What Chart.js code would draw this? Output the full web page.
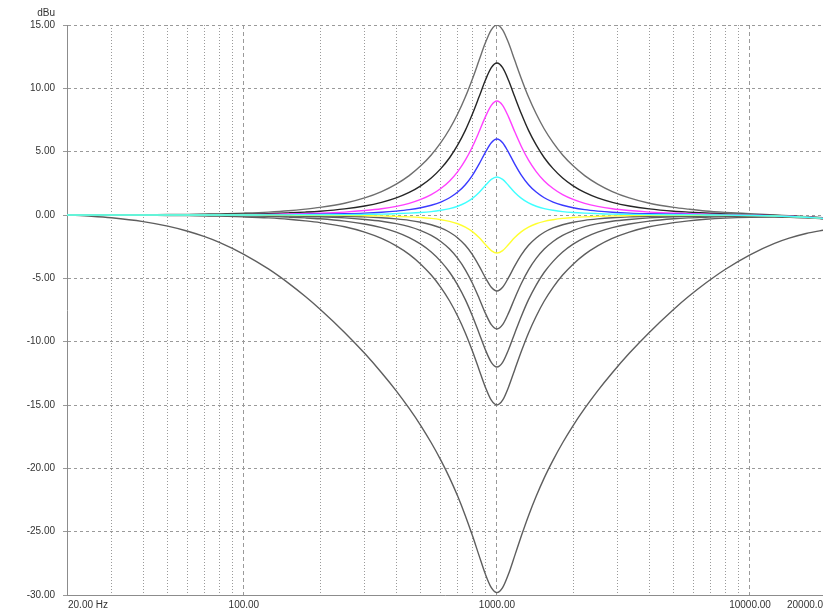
<!DOCTYPE html>
<html>
<head>
<meta charset="utf-8">
<script src="https://cdn.jsdelivr.net/npm/chart.js@4/dist/chart.umd.min.js"></script>
<style>
  html, body { margin: 0; padding: 0; background: #ffffff; overflow: hidden; }
  #wrap { width: 823px; height: 611px; }
</style>
</head>
<body>
<div id="wrap"><canvas id="c" width="823" height="611"></canvas></div>
<script>
// Frequencies (Hz)
const freqs = [20,25,30,40,50,60,70,80,100,125,150,175,200,250,300,350,400,450,500,550,600,650,700,750,800,850,900,950,1000,
               1053,1111,1176,1250,1333,1429,1538,1667,1818,2000,2222,2500,2857,3333,4000,5000,5714,6667,8000,10000,12500,14286,16667,20000];

// Level (dBu) per curve
const boost15 = [0,0.01,0.01,0.02,0.04,0.05,0.07,0.09,0.15,0.23,0.33,0.46,0.60,0.93,1.35,1.85,2.44,3.11,3.88,4.74,5.71,6.79,7.99,9.31,10.74,12.21,13.59,14.62,15.00,
                 14.62,13.59,12.21,10.74,9.31,7.99,6.79,5.71,4.74,3.88,3.11,2.44,1.85,1.35,0.93,0.60,0.46,0.32,0.21,0.11,0.01,-0.05,-0.13,-0.24];
const boost12 = [0,0,0.01,0.01,0.02,0.03,0.04,0.05,0.07,0.11,0.17,0.23,0.30,0.48,0.71,1.00,1.35,1.78,2.30,2.92,3.66,4.52,5.53,6.68,7.97,9.33,10.64,11.63,12.00,
                 11.63,10.64,9.33,7.97,6.68,5.53,4.52,3.66,2.92,2.30,1.78,1.35,1.00,0.71,0.48,0.30,0.23,0.16,0.09,0.03,-0.03,-0.08,-0.15,-0.26];
const boost9  = [0,0,0,0.01,0.01,0.01,0.02,0.02,0.03,0.05,0.08,0.11,0.14,0.23,0.35,0.49,0.68,0.92,1.23,1.61,2.09,2.69,3.43,4.33,5.39,6.57,7.75,8.66,9.00,
                 8.66,7.75,6.57,5.39,4.33,3.43,2.69,2.09,1.61,1.23,0.92,0.68,0.49,0.35,0.23,0.14,0.11,0.07,0.03,-0.01,-0.06,-0.10,-0.17,-0.27];
const boost6  = [0,0,0,0,0,0.01,0.01,0.01,0.01,0.02,0.03,0.05,0.06,0.10,0.15,0.22,0.31,0.42,0.57,0.77,1.02,1.36,1.81,2.39,3.13,4.02,4.95,5.71,6.00,
                 5.71,4.95,4.02,3.13,2.39,1.81,1.36,1.02,0.77,0.57,0.42,0.31,0.22,0.15,0.10,0.06,0.05,0.02,0.00,-0.03,-0.07,-0.11,-0.17,-0.28];
const boost3  = [0,0,0,0,0,0,0,0,0,0.01,0.01,0.02,0.02,0.03,0.05,0.07,0.11,0.15,0.20,0.27,0.37,0.50,0.69,0.95,1.31,1.78,2.33,2.81,3.00,
                 2.81,2.33,1.78,1.31,0.95,0.69,0.50,0.37,0.27,0.20,0.15,0.11,0.07,0.05,0.03,0.02,0.02,0.00,-0.01,-0.04,-0.08,-0.12,-0.18,-0.28];
const cut3    = [0,0,0,0,0,0,0,0,0,-0.01,-0.01,-0.02,-0.02,-0.03,-0.05,-0.07,-0.11,-0.15,-0.20,-0.27,-0.37,-0.50,-0.69,-0.95,-1.31,-1.78,-2.33,-2.81,-3.00,
                 -2.81,-2.33,-1.78,-1.31,-0.95,-0.69,-0.50,-0.37,-0.27,-0.20,-0.15,-0.11,-0.07,-0.05,-0.03,-0.02,-0.02,-0.02,-0.03,-0.04,-0.08,-0.12,-0.18,-0.28];
const cut6    = [0,0,0,0,0,-0.01,-0.01,-0.01,-0.01,-0.02,-0.03,-0.05,-0.06,-0.10,-0.15,-0.22,-0.31,-0.42,-0.57,-0.77,-1.02,-1.36,-1.81,-2.39,-3.13,-4.02,-4.95,-5.71,-6.00,
                 -5.71,-4.95,-4.02,-3.13,-2.39,-1.81,-1.36,-1.02,-0.77,-0.57,-0.42,-0.31,-0.22,-0.15,-0.10,-0.06,-0.05,-0.04,-0.04,-0.05,-0.09,-0.13,-0.19,-0.28];
const cut9    = [0,0,0,-0.01,-0.01,-0.01,-0.02,-0.02,-0.03,-0.05,-0.08,-0.11,-0.14,-0.23,-0.35,-0.49,-0.68,-0.92,-1.23,-1.61,-2.09,-2.69,-3.43,-4.33,-5.39,-6.57,-7.75,-8.66,-9.00,
                 -8.66,-7.75,-6.57,-5.39,-4.33,-3.43,-2.69,-2.09,-1.61,-1.23,-0.92,-0.68,-0.49,-0.35,-0.23,-0.14,-0.11,-0.09,-0.07,-0.07,-0.10,-0.14,-0.19,-0.29];
const cut12   = [0,0,-0.01,-0.01,-0.02,-0.03,-0.04,-0.05,-0.07,-0.11,-0.17,-0.23,-0.30,-0.48,-0.71,-1.00,-1.35,-1.78,-2.30,-2.92,-3.66,-4.52,-5.53,-6.68,-7.97,-9.33,-10.64,-11.63,-12.00,
                 -11.63,-10.64,-9.33,-7.97,-6.68,-5.53,-4.52,-3.66,-2.92,-2.30,-1.78,-1.35,-1.00,-0.71,-0.48,-0.30,-0.23,-0.18,-0.13,-0.11,-0.13,-0.16,-0.21,-0.30];
const cut15   = [0,-0.01,-0.01,-0.02,-0.04,-0.05,-0.07,-0.09,-0.15,-0.23,-0.33,-0.46,-0.60,-0.93,-1.35,-1.85,-2.44,-3.11,-3.88,-4.74,-5.71,-6.79,-7.99,-9.31,-10.74,-12.21,-13.59,-14.62,-15.00,
                 -14.62,-13.59,-12.21,-10.74,-9.31,-7.99,-6.79,-5.71,-4.74,-3.88,-3.11,-2.44,-1.85,-1.35,-0.93,-0.60,-0.46,-0.34,-0.25,-0.19,-0.17,-0.19,-0.23,-0.32];
const cut30   = [0,-0.10,-0.22,-0.52,-0.88,-1.28,-1.71,-2.16,-3.10,-4.26,-5.38,-6.44,-7.44,-9.27,-10.92,-12.45,-13.88,-15.27,-16.62,-17.98,-19.35,-20.75,-22.21,-23.74,-25.31,-26.89,-28.35,-29.42,-29.81,
                 -29.42,-28.35,-26.89,-25.31,-23.74,-22.21,-20.75,-19.35,-17.98,-16.62,-15.27,-13.88,-12.45,-10.92,-9.27,-7.44,-6.44,-5.39,-4.28,-3.14,-2.24,-1.83,-1.46,-1.16];

// Axis ticks
const yTicks = [-30,-25,-20,-15,-10,-5,0,5,10,15];
const xMajor = [100,1000,10000];
const xMinor = [30,40,50,60,70,80,90,200,300,400,500,600,700,800,900,2000,3000,4000,5000,6000,7000,8000,9000];
const xLabelValues = [20,100,1000,10000,20000];
const xLabelTexts = ['20.00 Hz','100.00','1000.00','10000.00','20000.00'];
const yUnit = 'dBu';

const series = [
  {name:'+3 dB',  data: boost3,  color:'#40ffff'},
  {name:'-3 dB',  data: cut3,    color:'#ffff30'},
  {name:'+6 dB',  data: boost6,  color:'#3a3aff'},
  {name:'+9 dB',  data: boost9,  color:'#ff40ff'},
  {name:'+12 dB', data: boost12, color:'#262626'},
  {name:'+15 dB', data: boost15, color:'#6e6e6e'},
  {name:'-6 dB',  data: cut6,    color:'#5e5e5e'},
  {name:'-9 dB',  data: cut9,    color:'#5e5e5e'},
  {name:'-12 dB', data: cut12,   color:'#5e5e5e'},
  {name:'-15 dB', data: cut15,   color:'#5e5e5e'},
  {name:'-30 dB', data: cut30,   color:'#5e5e5e'}
];

const FONT = '10px "Liberation Sans", Arial, sans-serif';
const GRID = '#9a9a9a';
const AXIS = '#8c8c8c';

const labelsPlugin = {
  id: 'labelsPlugin',
  afterDraw(chart) {
    const ctx = chart.ctx;
    const xs = chart.scales.x;
    const area = chart.chartArea;
    ctx.save();
    ctx.font = FONT;
    ctx.fillStyle = '#333333';
    ctx.textBaseline = 'top';
    xLabelValues.forEach((v, i) => {
      const px = xs.getPixelForValue(v);
      const w = ctx.measureText(xLabelTexts[i]).width;
      let left;
      if (i === 0) left = px + 1;
      else left = Math.min(px - w / 2, area.right - 36);
      ctx.textAlign = 'left';
      ctx.fillText(xLabelTexts[i], left, area.bottom + 5);
    });
    ctx.textAlign = 'right';
    ctx.textBaseline = 'middle';
    ctx.fillText(yUnit, area.left - 12, area.top - 12);
    ctx.restore();
  }
};

new Chart(document.getElementById('c'), {
  type: 'line',
  data: {
    datasets: series.map(s => ({
      label: s.name,
      data: freqs.map((f, i) => ({x: f, y: s.data[i]})),
      borderColor: s.color,
      borderWidth: 1.4,
      pointRadius: 0,
      fill: false,
      cubicInterpolationMode: 'monotone'
    }))
  },
  options: {
    responsive: false,
    animation: false,
    devicePixelRatio: 1,
    layout: { padding: { top: 25, bottom: 16, left: 0, right: 0 } },
    plugins: { legend: { display: false }, tooltip: { enabled: false } },
    scales: {
      x: {
        type: 'logarithmic',
        position: 'bottom',
        min: 20, max: 19430,
        afterBuildTicks: s => { s.ticks = xMajor.map(v => ({value: v})); },
        afterFit: s => { s.height = 0; },
        ticks: { display: false },
        grid: { color: GRID, lineWidth: 1, drawTicks: false },
        border: { display: true, color: AXIS, width: 1, dash: [4, 3] }
      },
      xMinor: {
        type: 'logarithmic',
        position: 'bottom',
        min: 20, max: 19430,
        afterBuildTicks: s => { s.ticks = xMinor.map(v => ({value: v})); },
        afterFit: s => { s.height = 0; },
        ticks: { display: false },
        grid: { color: GRID, lineWidth: 1, drawTicks: false },
        border: { display: false, dash: [1, 2] }
      },
      y: {
        type: 'linear',
        min: -30, max: 15,
        afterBuildTicks: s => { s.ticks = yTicks.map(v => ({value: v})); },
        afterFit: s => { s.width = 67; },
        ticks: {
          font: { family: '"Liberation Sans", Arial, sans-serif', size: 10 },
          color: '#333333',
          padding: 8,
          callback: v => Number(v).toFixed(2)
        },
        grid: { color: GRID, lineWidth: 1, drawTicks: true, tickLength: 4, tickColor: GRID },
        border: { display: true, color: AXIS, width: 1, dash: [3, 3] }
      }
    }
  },
  plugins: [labelsPlugin]
});
</script>
</body>
</html>
